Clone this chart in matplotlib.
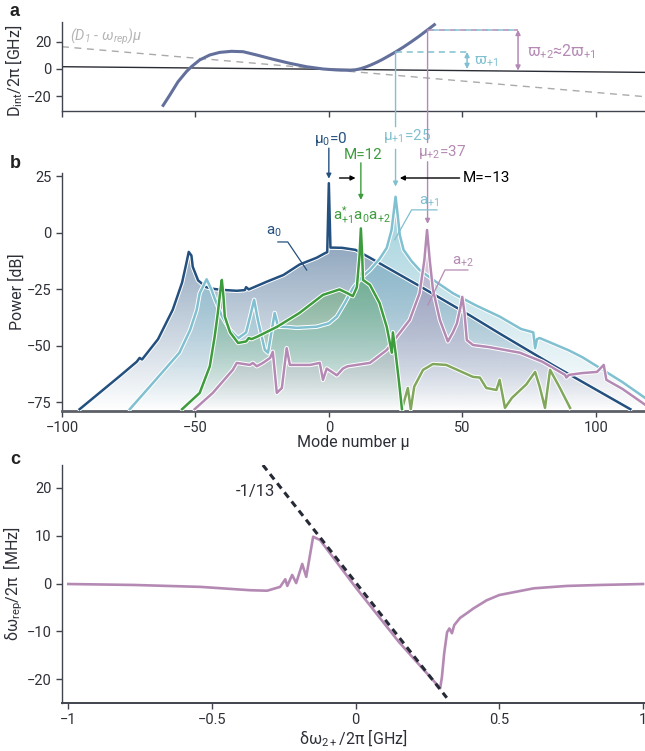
import numpy as np
import matplotlib
matplotlib.use("Agg")
import matplotlib.pyplot as plt
import matplotlib.patheffects as pe
from matplotlib.colors import to_rgb
from matplotlib.patches import ConnectionPatch

plt.rcParams["font.family"] = ["Roboto", "DejaVu Sans"]
plt.rcParams["mathtext.default"] = "regular"

# ---- panel a: integrated dispersion ----
mu_dint = [-62.4, -59.6, -56.5, -53.4, -51.5, -48.4, -44.6, -40.9, -36.5, -32.1, -27.1, -20.9, -14.6, -8.4,
           -2.1, 2.9, 8, 10, 12, 14, 16, 18, 20, 22, 25, 28, 31, 34, 37, 40]
dint_ghz = [-27.9, -19.3, -9.4, -2.0, 1.7, 6.7, 10.4, 12.3, 13.1, 12.8, 10.4, 7.2, 4.2, 1.7,
            0, -0.7, -1.0, -0.6, 0.3, 1.6, 3.2, 5.0, 7.0, 9.2, 12.6, 16.3, 20.3, 24.5, 29, 33.5]
mu_ref = [-100, 118.5]
ref_line = [1.7, -2.5]
drift_line = [16.5, -20.5]
mu_p1, mu_p2 = 25, 37
dint_p1, dint_p2 = 12.6, 29

# ---- panel b: spectra ----
mu_a0 = [-93.4, -86, -78, -72, -70.9, -70, -64, -58.5, -55, -53.5, -52.5, -51.5, -51, -49, -46, -43, -40, -34.5,
         -31.5, -31, -30, -23.3, -17, -11, -4.6, -1.5, -0.6, 0, 0.6, 1.5, 5, 10, 15.4, 34, 53, 64, 84, 113]
p_a0 = [-78, -70.8, -63, -57, -55.3, -56, -47, -34, -22, -14, -8.4, -10, -15, -21, -24, -24.8, -25.2, -25.6,
        -25.3, -24.0, -25, -21.6, -18.6, -14, -11, -9, -8.5, 22, -6.5, -6.5, -6.6, -7.5, -11, -23.5, -36.6, -44.5, -58.5, -78]

mu_a1 = [-74.6, -66, -56, -52, -49.5, -48.4, -45.8, -44, -42.8, -40, -37, -34, -31, -29.5, -28, -26.6, -24, -22.8,
         -20.3, -19, -15.8, -12, -4.6, 0, 3, 6, 9, 12, 15.4, 19, 21.7, 23.5, 24.4, 25, 25.6, 26.6, 28, 31, 34, 40,
         46.5, 55, 64, 72, 76.6, 77.3, 78, 79, 85, 90, 95, 100.5, 110, 118.5]
p_a1 = [-78, -66.5, -53, -43, -34, -26.7, -20.5, -25, -29, -37, -43, -46.6, -44, -37, -29.6, -38.5, -51.7, -53,
        -35.4, -41.5, -41.6, -42, -41.5, -40, -37, -31, -24.5, -20, -16.4, -11.5, -6.6, 1.3, 10, 16, 10, -1, -7.5,
        -12.5, -16.4, -21.5, -26.7, -32, -37, -42.5, -44, -51, -47, -46.5, -49.5, -52, -55, -59, -66, -73]

mu_a2 = [-50.3, -43.5, -36, -34.5, -29.6, -28.5, -27, -24.7, -22, -21, -19.5, -17.6, -15.8, -14.6, -7, -3.4,
         -2.2, -0.8, 3, 5.3, 7, 15.4, 21.7, 25.4, 30.3, 34, 35.8, 36.8, 37.8, 39, 41.6, 44.6, 46.5, 48, 49.3,
         50, 50.8, 51.7, 54, 60, 71.6, 80, 88.5, 89, 90, 95, 100.5, 103, 104, 110, 118.5]
p_a2 = [-78, -70.8, -60.6, -57.5, -58.4, -57.5, -59, -57.5, -55.3, -52.6, -70.8, -68.6, -51, -58.4, -58.4, -57.5,
        -65, -60, -63, -60, -59, -57.5, -51.8, -46, -38.5, -26.7, -12, 1.3, -12, -25, -38.5, -48, -44, -40, -33,
        -28.3, -35, -47.4, -49.6, -50.5, -53, -57, -62.8, -64, -62.8, -62, -61.5, -58.4, -65, -69, -76]

mu_fwm = [-55, -48.4, -44.6, -42.8, -41.6, -40.6, -40.1, -39.5, -39, -37, -34, -31, -30, -29, -27, -19.5, -11,
          -2.2, 4, 7, 9, 10.5, 11.5, 12, 12.5, 12.8, 15.4, 19, 21.7, 23.6, 24, 25, 26.2, 27.4]
p_fwm = [-78, -70.8, -59, -46, -35.4, -25, -20.8, -28, -37, -44, -48.7, -48, -46.5, -47, -46, -41.6, -35.4,
         -27.4, -25, -26.7, -28, -24, -10, 2, -10, -20.8, -23, -31, -41.6, -53, -44, -53, -65, -78]

mu_fwm2 = [27.4, 29.6, 30.7, 32, 35.3, 39, 44, 54, 56.6, 59, 62.8, 64, 66, 68.6, 74, 77.3, 79, 81, 82.9, 86.6, 90.4]
p_fwm2 = [-78, -68.6, -78, -68, -60.6, -58, -58.4, -63.7, -64, -68.6, -69.5, -65, -77.4, -73, -67, -61.5, -68,
          -77.4, -60.6, -68.6, -77.4]

# ---- panel c: repetition-rate shift ----
det_ghz = [-1.0, -0.77, -0.54, -0.367, -0.308, -0.263, -0.245, -0.238, -0.221, -0.207, -0.186, -0.172, -0.148,
           -0.124, 0.0, 0.15, 0.294, 0.30, 0.308, 0.318, 0.326, 0.335, 0.343, 0.363, 0.387, 0.41, 0.456, 0.5,
           0.62, 0.735, 0.85, 1.0]
drep_mhz = [-0.1, -0.3, -0.7, -1.4, -1.5, -0.7, 0.9, -0.5, 1.8, 0.1, 4.1, 1.4, 9.8, 9.1, -0.8, -12.2, -21.9,
            -19.6, -14.6, -10.2, -9.4, -10.4, -8.7, -7.2, -6.2, -5.2, -3.5, -2.4, -1.0, -0.5, -0.3, -0.1]
fit_x = [-0.323, 0.317]
fit_y = [24.8, -23.9]

C_A0 = "#23507f"
C_A1 = "#80c0d0"
C_A2 = "#b48ab4"
C_FWM = "#3d9c3d"
C_FWM2 = "#80a75c"
C_DINT = "#64709c"
C_TXT = "#2e3038"
C_SPINE = "#41444d"

fig = plt.figure(figsize=(6.45, 7.51), dpi=100)
ax_a = fig.add_axes([0.0961, 0.8522, 0.904, 0.1185])
ax_b = fig.add_axes([0.0961, 0.4527, 0.904, 0.3169])
ax_c = fig.add_axes([0.0961, 0.0639, 0.904, 0.3169])

for ax in (ax_a, ax_b, ax_c):
    ax.spines["top"].set_visible(False)
    ax.spines["right"].set_visible(False)
    for s in ("left", "bottom"):
        ax.spines[s].set_color(C_SPINE)
        ax.spines[s].set_linewidth(1.0)
    ax.tick_params(colors=C_SPINE, labelcolor=C_TXT, labelsize=10.5, length=4, width=1)

# ---------------- panel a ----------------
ax_a.plot(mu_ref, drift_line, color="#aaaaaa", lw=1.0, dashes=(5, 4))
ax_a.plot(mu_ref, ref_line, color="#2a2c35", lw=1.0)
ax_a.plot(mu_dint, dint_ghz, color=C_DINT, lw=2.2, solid_capstyle="butt", solid_joinstyle="round")
ax_a.plot([mu_p1, 51.8], [dint_p1, dint_p1], color=C_A1, lw=1.1, dashes=(4, 3))
ax_a.plot([mu_p2, 70.9], [dint_p2, dint_p2], color=C_A2, lw=1.1, dashes=(4, 3))
ax_a.plot([mu_p2, 70.9], [dint_p2, dint_p2], color=C_A1, lw=1.1, linestyle=(4, (4, 3)))
ax_a.annotate("", xy=(51.8, 0), xytext=(51.8, dint_p1),
              arrowprops=dict(arrowstyle="<|-|>", color=C_A1, lw=1.1, mutation_scale=7, shrinkA=0, shrinkB=0))
ax_a.annotate("", xy=(70.9, -1.2), xytext=(70.9, dint_p2),
              arrowprops=dict(arrowstyle="<|-|>", color=C_A2, lw=1.1, mutation_scale=7, shrinkA=0, shrinkB=0))
ax_a.text(54.3, 5.5, r"$\varpi_{+1}$", color=C_A1, fontsize=11, va="center", ha="left")
ax_a.text(74.3, 12.6, r"$\varpi_{+2}$≈2$\varpi_{+1}$", color=C_A2, fontsize=11.5, va="center", ha="left")
ax_a.text(-97, 24, r"$(D_1$ - $\omega_{rep})\mu$", color="#b5b5b5", fontsize=10.5, va="center", ha="left",
          fontstyle="italic")
ax_a.set_xlim(-100, 118.5)
ax_a.set_ylim(-31.1, 34.8)
ax_a.set_xticks([-100, -50, 0, 50, 100])
ax_a.set_xticklabels([])
ax_a.set_yticks([-20, 0, 20])
ax_a.set_yticklabels(["−20", "0", "20"])
ax_a.set_ylabel(r"D$_{int}$/2π [GHz]", fontsize=11.5, color=C_TXT)
ax_a.yaxis.set_label_coords(-0.063, 0.45)

# ---------------- panel b ----------------
YMIN_B, YMAX_B = -78.8, 26.5
ax_b.set_xlim(-100, 118.5)
ax_b.set_ylim(YMIN_B, YMAX_B)


def grad_fill(ax, x, y, color, top_alpha, z):
    poly = ax.fill_between(x, y, YMIN_B, facecolor="none", edgecolor="none", zorder=z)
    path = poly.get_paths()[0]
    img = np.zeros((256, 1, 4))
    img[:, 0, :3] = to_rgb(color)
    img[:, 0, 3] = np.linspace(top_alpha, 0.0, 256)
    im = ax.imshow(img, extent=[min(x), max(x), YMIN_B, YMAX_B], aspect="auto", origin="upper",
                   zorder=z, interpolation="bilinear")
    im.set_clip_path(path, transform=ax.transData)


grad_fill(ax_b, mu_a0, p_a0, C_A0, 0.72, 1)
grad_fill(ax_b, mu_a1, p_a1, C_A1, 0.85, 2)
grad_fill(ax_b, mu_fwm, p_fwm, C_FWM, 0.7, 3)
grad_fill(ax_b, mu_a2, p_a2, C_A2, 0.8, 4)

outline = [pe.Stroke(linewidth=3.2, foreground="white"), pe.Normal()]
for xs, ys, col, z in ((mu_a0, p_a0, C_A0, 5), (mu_a1, p_a1, C_A1, 6), (mu_a2, p_a2, C_A2, 7),
                       (mu_fwm2, p_fwm2, C_FWM2, 7), (mu_fwm, p_fwm, C_FWM, 8)):
    ax_b.plot(xs, ys, color=col, lw=1.8, zorder=z, path_effects=outline, solid_joinstyle="round")

ax_b.set_xlim(-100, 118.5)
ax_b.set_ylim(YMIN_B, YMAX_B)
ax_b.set_xticks([-100, -50, 0, 50, 100])
ax_b.set_xticklabels(["−100", "−50", "0", "50", "100"])
ax_b.set_yticks([-75, -50, -25, 0, 25])
ax_b.set_yticklabels(["−75", "−50", "−25", "0", "25"])
ax_b.spines["bottom"].set_linewidth(2.0)
ax_b.spines["bottom"].set_color("#5c5f67")
ax_b.set_xlabel("Mode number μ", fontsize=11.5, color=C_TXT, labelpad=0)
ax_b.set_ylabel("Power [dB]", fontsize=11.5, color=C_TXT)
ax_b.yaxis.set_label_coords(-0.063, 0.5)

arr = dict(arrowstyle="-|>", lw=1.0, mutation_scale=7, shrinkA=0, shrinkB=0)
# mode markers
ax_b.annotate("", xy=(0, 24), xytext=(0, 37.5), arrowprops=dict(arr, color=C_A0), annotation_clip=False)
ax_b.text(0.5, 41.5, r"μ$_0$=0", color=C_A0, fontsize=11, ha="center", va="center", clip_on=False)
ax_b.annotate("", xy=(12, 14.6), xytext=(12, 31), arrowprops=dict(arr, color=C_FWM), annotation_clip=False)
ax_b.text(13, 34.5, "M=12", color=C_FWM, fontsize=11, ha="center", va="center", clip_on=False)
ax_b.annotate("", xy=(mu_p1, 20.5), xytext=(mu_p1, 37), arrowprops=dict(arr, color=C_A1), annotation_clip=False)
ax_b.text(20.3, 42.9, r"μ$_{+1}$=25", color=C_A1, fontsize=11, ha="left", va="center", clip_on=False)
ax_b.annotate("", xy=(mu_p2, 4), xytext=(mu_p2, 31.5), arrowprops=dict(arr, color=C_A2), annotation_clip=False)
ax_b.text(33.4, 35.8, r"μ$_{+2}$=37", color=C_A2, fontsize=11, ha="left", va="center", clip_on=False)
con1 = ConnectionPatch(xyA=(mu_p1, dint_p1), coordsA=ax_a.transData, xyB=(mu_p1, 47), coordsB=ax_b.transData,
                       color=C_A1, lw=1.0)
con2 = ConnectionPatch(xyA=(mu_p2, dint_p2), coordsA=ax_a.transData, xyB=(mu_p2, 40), coordsB=ax_b.transData,
                       color=C_A2, lw=1.0)
fig.add_artist(con1)
fig.add_artist(con2)
# walk-off arrows
ax_b.annotate("", xy=(10, 24.3), xytext=(4, 24.3), arrowprops=dict(arr, color="black"), annotation_clip=False)
ax_b.annotate("", xy=(26.6, 24.3), xytext=(49, 24.3), arrowprops=dict(arr, color="black"), annotation_clip=False)
ax_b.text(50, 24.3, "M=−13", color="black", fontsize=11, ha="left", va="center", clip_on=False)

# series labels with leaders
ax_b.text(-20.6, 0.5, r"a$_0$", color=C_A0, fontsize=11, ha="center", va="center", zorder=10)
ax_b.plot([-19.1, -15.4, -8.3], [-4, -4, -16.4], color=C_A0, lw=0.9, zorder=10)
ax_b.text(33.8, 10.6, r"a$_{+1}$", color=C_A1, fontsize=11, ha="left", va="bottom", zorder=10)
ax_b.plot([40.5, 31, 24.7], [10.2, 10.2, -3], color=C_A1, lw=0.9, zorder=10)
ax_b.text(46.1, -15.9, r"a$_{+2}$", color=C_A2, fontsize=11, ha="left", va="bottom", zorder=10)
ax_b.plot([52.1, 43.5, 37.1], [-16.4, -16.4, -31.9], color=C_A2, lw=0.9, zorder=10)
ax_b.text(12.4, 8, r"a$^{*}_{+1}$a$_0$a$_{+2}$", color=C_FWM, fontsize=11, ha="center", va="center", zorder=10)

# ---------------- panel c ----------------
ax_c.plot(det_ghz, drep_mhz, color=C_A2, lw=1.9, solid_joinstyle="round")
ax_c.plot(fit_x, fit_y, color="#262a36", lw=2.2, dashes=(2.2, 1.6))
ax_c.text(-0.419, 19.2, "-1/13", color=C_TXT, fontsize=12, ha="left", va="center")
ax_c.set_xlim(-1.022, 1.007)
ax_c.set_ylim(-25, 24.8)
ax_c.set_xticks([-1, -0.5, 0, 0.5, 1])
ax_c.set_xticklabels(["−1", "−0.5", "0", "0.5", "1"])
ax_c.set_yticks([-20, -10, 0, 10, 20])
ax_c.set_yticklabels(["−20", "−10", "0", "10", "20"])
ax_c.spines["bottom"].set_linewidth(1.4)
ax_c.set_xlabel(r"δω$_{2+}$/2π [GHz]", fontsize=11.5, color=C_TXT, labelpad=0)
ax_c.set_ylabel(r"δω$_{rep}$/2π  [MHz]", fontsize=11.5, color=C_TXT)
ax_c.yaxis.set_label_coords(-0.063, 0.5)

# panel letters
for lab, ypx in (("a", 12), ("b", 163), ("c", 460)):
    fig.text(15 / 645, 1 - ypx / 751, lab, fontsize=13, fontweight="bold", ha="center", va="center",
             color="#222222", family=["Liberation Sans", "DejaVu Sans"])

fig.savefig("out.png", dpi=100)
